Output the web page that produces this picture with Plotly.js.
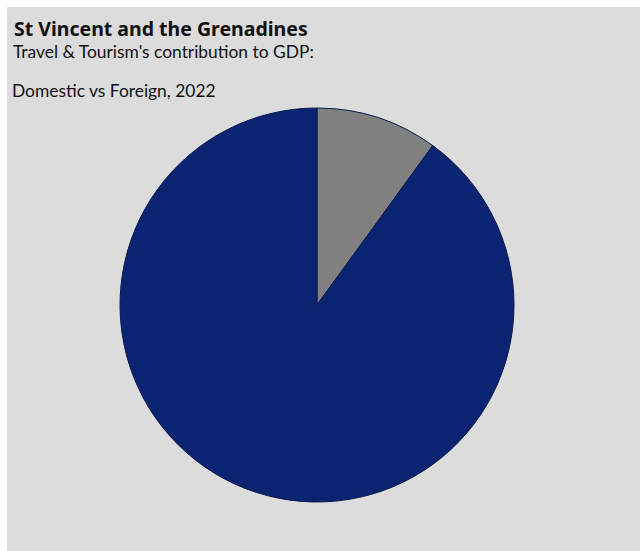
<!DOCTYPE html>
<html>
<head>
<meta charset="utf-8">
<script src="https://cdn.plot.ly/plotly-3.0.1.min.js"></script>
<style>
html,body{margin:0;padding:0;background:#ffffff;width:640px;height:551px;overflow:hidden;}
#chart{position:absolute;left:7px;top:7px;width:633px;height:544px;}
</style>
</head>
<body>
<div id="chart"></div>
<script>
const labels = ["Domestic", "Foreign"];
const values = [10, 90];
const colors = ["#808080", "#0B2472"];
const titleText = "St Vincent and the Grenadines";
const subtitle1 = "Travel & Tourism's contribution to GDP:";
const subtitle2 = "Domestic vs Foreign, 2022";

const W = 633, H = 544;
const cx = 310, cy = 298, r = 197;

const data = [{
  type: "pie",
  labels: labels,
  values: values,
  marker: {colors: colors, line: {color: "#0A1A4E", width: 1}},
  sort: false,
  direction: "clockwise",
  rotation: 0,
  textinfo: "none",
  hoverinfo: "label+percent",
  showlegend: false,
  domain: {x: [(cx - r) / W, (cx + r) / W], y: [1 - (cy + r) / H, 1 - (cy - r) / H]}
}];

const font = "Lato, 'Noto Sans', sans-serif";
const boldFont = "'Noto Sans', 'Open Sans', sans-serif";
const layout = {
  width: W, height: H,
  margin: {l: 0, r: 0, t: 0, b: 0},
  paper_bgcolor: "#DCDCDC",
  plot_bgcolor: "#DCDCDC",
  showlegend: false,
  annotations: [
    {text: "<b>" + titleText + "</b>", x: 5 / W, y: 1 - 22 / H, xref: "paper", yref: "paper",
     xanchor: "left", yanchor: "middle", showarrow: false, font: {family: boldFont, size: 19.5, color: "#111111"}},
    {text: subtitle1, x: 4 / W, y: 1 - 44 / H, xref: "paper", yref: "paper",
     xanchor: "left", yanchor: "middle", showarrow: false, font: {family: font, size: 17.4, color: "#111111"}},
    {text: subtitle2, x: 3 / W, y: 1 - 83 / H, xref: "paper", yref: "paper",
     xanchor: "left", yanchor: "middle", showarrow: false, font: {family: font, size: 17.4, color: "#111111"}}
  ]
};

Plotly.newPlot("chart", data, layout, {displayModeBar: false, staticPlot: true});
</script>
</body>
</html>
